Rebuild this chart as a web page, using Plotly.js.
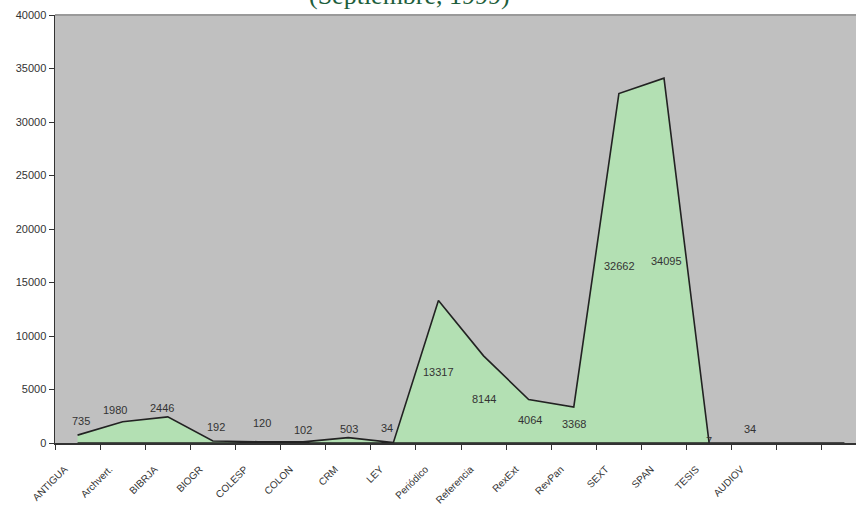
<!DOCTYPE html>
<html>
<head>
<meta charset="utf-8">
<script src="https://cdn.plot.ly/plotly-3.0.1.min.js"></script>
<style>
  html, body { margin: 0; padding: 0; background: #ffffff; overflow: hidden; width: 856px; height: 508px; }
  #chart { width: 900px; height: 508px; }
</style>
</head>
<body>
<div id="chart"></div>
<script>
// ---- data ----
const categories = ["ANTIGUA", "Archvert.", "BIBRJA", "BIOGR", "COLESP", "COLON", "CRM", "LEY",
  "Periódico", "Referencia", "RexExt", "RevPan", "SEXT", "SPAN", "TESIS", "AUDIOV", "\u200b", "\u200b\u200b"];
const values = [735, 1980, 2446, 192, 120, 102, 503, 34, 13317, 8144, 4064, 3368, 32662, 34095, 7, 34, 0, 0];
const valueLabels = ["735", "1980", "2446", "192", "120", "102", "503", "34", "13317", "8144", "4064", "3368",
  "32662", "34095", "7", "34", "", ""];
const titleText = "(Septiembre, 1999)";
const yTickVals = [0, 5000, 10000, 15000, 20000, 25000, 30000, 35000, 40000];
const yTickText = ["0", "5000", "10000", "15000", "20000", "25000", "30000", "35000", "40000"];

// ---- label nudges (px, style only) ----
const labelLift = [18, 22, 22, 15, 19, 12, 11, 15, 0, 0, 1, 1, 2, 0, 2, 14, 0, 0];
const labelSlide = [3, -8, -6, 3, 4, 0, 1, -6, 0, 0, 1, 0, 1, 2, 0, -4, 0, 0];

// closed polygon built from the data (area chart outline like a spreadsheet area chart)
const polyX = categories.concat([categories[categories.length - 1], categories[0]]);
const polyY = values.concat([0, 0]);

const area = {
  x: polyX,
  y: polyY,
  type: "scatter",
  mode: "lines",
  fill: "toself",
  fillcolor: "rgb(179,224,179)",
  line: { color: "#222222", width: 1.6 },
  hoverinfo: "skip",
  showlegend: false
};

const labelFont = { family: "Liberation Sans, Arial, sans-serif", size: 11, color: "#333333" };
const annotations = [];
values.forEach((v, i) => {
  if (valueLabels[i] === "") return;
  annotations.push({
    x: categories[i], y: v / 2, xref: "x", yref: "y",
    text: valueLabels[i], showarrow: false,
    xanchor: "center", yanchor: "middle",
    yshift: labelLift[i], xshift: labelSlide[i],
    font: labelFont
  });
});
annotations.push({
  xref: "paper", yref: "paper", x: 0.437, y: 1,
  xanchor: "center", yanchor: "bottom", yshift: 3,
  text: titleText, showarrow: false,
  font: { family: "Liberation Serif, Times New Roman, serif", size: 26, color: "#1d5e3c" }
});

const layout = {
  width: 900, height: 508,
  margin: { l: 55, r: 33, t: 15, b: 65, pad: 0 },
  paper_bgcolor: "#ffffff",
  plot_bgcolor: "#c0c0c0",
  xaxis: {
    type: "category",
    categoryorder: "array",
    categoryarray: categories,
    range: [-0.5, categories.length - 0.5],
    tickson: "boundaries",
    ticks: "outside", ticklen: 5, tickwidth: 1, tickcolor: "#333333",
    tickangle: -45,
    ticklabelshift: -13,
    ticklabelstandoff: 15,
    tickfont: { family: "Liberation Sans, Arial, sans-serif", size: 10, color: "#333333" },
    showline: true, linecolor: "#333333", linewidth: 1.5,
    showgrid: false, zeroline: false,
    fixedrange: true
  },
  yaxis: {
    range: [0, 40000],
    tickmode: "array", tickvals: yTickVals, ticktext: yTickText,
    ticks: "outside", ticklen: 5, tickwidth: 1, tickcolor: "#333333",
    tickfont: { family: "Liberation Sans, Arial, sans-serif", size: 11, color: "#333333" },
    showline: true, linecolor: "#333333", linewidth: 1.5,
    showgrid: false, zeroline: false,
    fixedrange: true
  },
  shapes: [{
    type: "line", xref: "paper", yref: "paper", x0: 0, x1: 1, y0: 1, y1: 1,
    line: { color: "#9a9a9a", width: 2 }
  }],
  annotations: annotations
};

Plotly.newPlot("chart", [area], layout, { displayModeBar: false, staticPlot: true });
</script>
</body>
</html>
